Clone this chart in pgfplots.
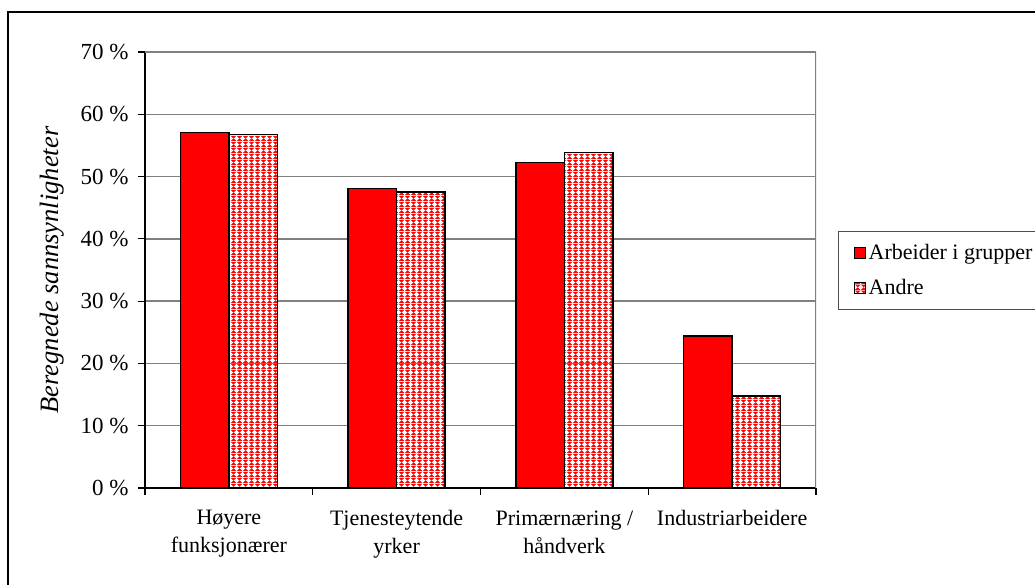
\documentclass[border=0pt]{standalone}
\usepackage{fontspec}
\setmainfont{Liberation Serif}
\usepackage{pgfplots}
\pgfplotsset{compat=1.18}
\usetikzlibrary{patterns}
\pgfdeclarepatterninherentlycolored{redmesh}{\pgfpointorigin}{\pgfpoint{6pt}{6pt}}{\pgfpoint{6pt}{6pt}}{%
  \pgfsetfillcolor{red}%
  \pgfpathrectangle{\pgfpointorigin}{\pgfpoint{6pt}{6pt}}\pgfusepath{fill}%
  \pgfsetfillcolor{white}%
  \pgfpathmoveto{\pgfpoint{3pt}{0pt}}\pgfpathlineto{\pgfpoint{6pt}{3pt}}\pgfpathlineto{\pgfpoint{3pt}{6pt}}\pgfpathlineto{\pgfpoint{0pt}{3pt}}\pgfpathclose\pgfusepath{fill}%
}
\definecolor{gridgray}{RGB}{128,128,128}
\begin{document}
\begin{tikzpicture}[x=1pt,y=1pt]
\path[use as bounding box] (0,0) rectangle (1035,584);
\clip (0,0) rectangle (1035,584);
\draw[line width=2.6pt] (8,-20) rectangle (1060,572);
\begin{axis}[
  at={(145pt,96pt)}, anchor=south west,
  scale only axis, width=671pt, height=436pt,
  ymin=0, ymax=70, xmin=-0.5, xmax=3.5,
  ybar=0pt, bar width=48.5pt,
  font=\fontsize{22}{28}\selectfont,
  axis x line*=bottom, axis y line*=left,
  axis line style={-, black, line width=1.3pt},
  tick align=outside,
  major tick length=7pt,
  tick style={black, line width=1.2pt},
  ytick={0,10,...,70},
  yticklabels={0 \%,10 \%,20 \%,30 \%,40 \%,50 \%,60 \%,70 \%},
  yticklabel style={xshift=-6pt, font=\fontsize{23}{28}\selectfont},
  xtick={-0.5,0.5,1.5,2.5,3.5},
  xticklabels={},
  extra x ticks={0,1,2,3},
  extra x tick labels={H\o yere\\funksjon\ae rer, Tjenesteytende\\yrker, Prim\ae rn\ae ring /\\h\aa ndverk, Industriarbeidere},
  extra x tick style={major tick length=0pt, tick label style={align=center, yshift=-19pt, font=\fontsize{22}{28}\selectfont}},
  ymajorgrids,
  grid style={gridgray, line width=1.3pt},
  ylabel={\itshape Beregnede sannsynligheter},
  ylabel style={at={(axis description cs:-0.1386,0.5)}, anchor=center, font=\fontsize{26.5}{30}\selectfont},
  legend style={at={(rel axis cs:1.0328,0.5894)}, anchor=north west,
    draw=gridgray!60!black, line width=1pt, inner xsep=4pt, inner ysep=13pt,
    nodes={inner sep=0pt},
    row sep=18pt, font=\fontsize{22}{26}\selectfont,
    /tikz/every odd column/.append style={column sep=3pt}},
  legend cell align=left,
  legend image code/.code={\path (-11pt,0pt); \draw[#1, draw=black, line width=1pt] (0pt,-5.5pt) rectangle (11pt,5.5pt);},
]
\addplot[fill=red, draw=black, line width=1.4pt] coordinates {(0,57.1) (1,48.1) (2,52.3) (3,24.4)};
\addplot[pattern=redmesh, draw=black, line width=1.4pt] coordinates {(0,56.8) (1,47.5) (2,53.9) (3,14.8)};
\legend{Arbeider i grupper, Andre}
\draw[gridgray, line width=1.3pt] (rel axis cs:0,1) -- (rel axis cs:1,1) -- (rel axis cs:1,0);
\end{axis}
\end{tikzpicture}
\end{document}
